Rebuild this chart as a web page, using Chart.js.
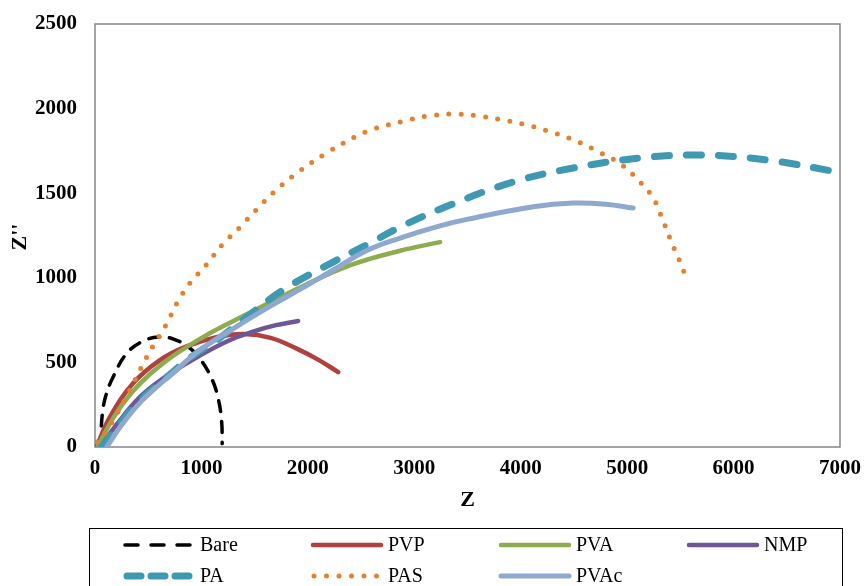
<!DOCTYPE html>
<html>
<head>
<meta charset="utf-8">
<title>Nyquist plot</title>
<script src="https://cdn.jsdelivr.net/npm/chart.js@4.4.0/dist/chart.umd.min.js"></script>
<style>
    html, body { margin: 0; padding: 0; background: #fff; }
    #wrap { width: 864px; height: 586px; }
</style>
</head>
<body>
<div id="wrap"><canvas id="nyquist" width="864" height="586"></canvas></div>
<script>
// Axis ticks
const xTicks = [0, 1000, 2000, 3000, 4000, 5000, 6000, 7000];
const yTicks = [0, 500, 1000, 1500, 2000, 2500];

// Series (Z, Z'')
const bareZ = [45, 55, 70, 100, 170, 300, 450, 600, 750, 900, 1000, 1100, 1160, 1190, 1195];
const bareZi = [0, 80, 200, 300, 414, 555, 625, 650, 635, 580, 510, 400, 280, 150, 20];

const pvpZ = [20, 140, 360, 610, 860, 1150, 1400, 1650, 1900, 2100, 2285];
const pvpZi = [10, 177, 378, 514, 595, 650, 668, 645, 580, 515, 443];

const pvaZ = [30, 200, 400, 650, 990, 1300, 1615, 1950, 2400, 2866, 3242];
const pvaZi = [10, 200, 360, 500, 640, 745, 845, 950, 1075, 1160, 1211];

const nmpZ = [50, 200, 423, 650, 865, 1100, 1297, 1500, 1700, 1908];
const nmpZi = [0, 130, 296, 410, 496, 580, 640, 685, 720, 745];

const paZ = [60, 200, 400, 677, 900, 1146, 1450, 1767, 2237, 2600, 2866, 3336, 3929, 4493, 5122, 5686, 6316, 6983];
const paZi = [0, 110, 260, 414, 530, 632, 780, 928, 1093, 1210, 1300, 1430, 1566, 1649, 1708, 1726, 1696, 1625];

const pasZ = [15, 94, 216, 329, 432, 545, 667, 771, 893, 1052, 1193, 1363, 1522, 1682, 1861, 2209, 2557, 2904, 3139, 3365, 3600, 3835, 4060, 4286, 4502, 4718, 4925, 5094, 5244, 5338, 5423, 5517, 5554];
const pasZi = [30, 83, 207, 337, 467, 597, 721, 851, 969, 1081, 1194, 1300, 1406, 1507, 1602, 1750, 1865, 1927, 1957, 1968, 1957, 1932, 1903, 1862, 1814, 1749, 1679, 1584, 1472, 1336, 1200, 1064, 993];

const pvacZ = [110, 250, 450, 700, 987, 1300, 1615, 1950, 2237, 2550, 2866, 3200, 3493, 4118, 4493, 4800, 5056];
const pvacZi = [0, 130, 280, 420, 573, 700, 821, 940, 1046, 1160, 1235, 1300, 1345, 1420, 1442, 1435, 1412];

const serif = "'Liberation Serif', 'Times New Roman', serif";

function toPoints(xs, ys) {
    return xs.map((x, i) => ({ x: x, y: ys[i] }));
}

function series(label, xs, ys, color, width, dash, order) {
    return {
        label: label,
        data: toPoints(xs, ys),
        borderColor: color,
        backgroundColor: color,
        borderWidth: width,
        borderDash: dash,
        borderCapStyle: 'round',
        borderJoinStyle: 'round',
        pointRadius: 0,
        pointHoverRadius: 0,
        showLine: true,
        fill: false,
        tension: 0.4,
        order: order
    };
}

const datasets = [
    series('Bare', bareZ, bareZi, '#000000', 3.5, [11, 10], 6),
    series('PVP', pvpZ, pvpZi, '#b0413e', 4.5, [], 5),
    series('PVA', pvaZ, pvaZi, '#8cac4f', 4.5, [], 4),
    series('NMP', nmpZ, nmpZi, '#6e5796', 4.5, [], 3),
    series('PA', paZ, paZi, '#3f99b2', 7, [15, 17], 2),
    series('PAS', pasZ, pasZi, '#e2822f', 5, [0, 12.3], 1),
    series('PVAc', pvacZ, pvacZi, '#8fa8cf', 5, [], 0)
];

// Plot frame under the curves
const frame = {
    id: 'frame',
    beforeDatasetsDraw(chart) {
        const a = chart.chartArea;
        const ctx = chart.ctx;
        ctx.save();
        ctx.strokeStyle = '#868686';
        ctx.lineWidth = 1.5;
        ctx.strokeRect(a.left, a.top, a.right - a.left, a.bottom - a.top);
        ctx.restore();
    }
};

// Axis titles and the boxed legend at the bottom
const extras = {
    id: 'extras',
    afterDraw(chart) {
        const ctx = chart.ctx;
        const a = chart.chartArea;
        ctx.save();
        ctx.fillStyle = '#000';
        ctx.font = 'bold 22px ' + serif;
        ctx.textAlign = 'center';
        ctx.textBaseline = 'middle';
        ctx.fillText('Z', (a.left + a.right) / 2, 500);
        ctx.save();
        ctx.translate(20, 237);
        ctx.rotate(-Math.PI / 2);
        ctx.fillText("Z''", 0, 0);
        ctx.restore();

        // legend
        ctx.strokeStyle = '#000';
        ctx.lineWidth = 1;
        ctx.strokeRect(89.5, 528.5, 753, 80);
        const cols = [123, 311, 499, 687];
        const rows = [545, 576];
        ctx.font = '20px ' + serif;
        ctx.textAlign = 'left';
        chart.data.datasets.forEach((ds, i) => {
            const x = cols[i % 4];
            const y = rows[Math.floor(i / 4)];
            ctx.beginPath();
            ctx.strokeStyle = ds.borderColor;
            ctx.lineWidth = ds.borderWidth;
            ctx.lineCap = 'round';
            let x0 = x + 2, x1 = x + 70;
            if (ds.label === 'Bare') { ctx.setLineDash([13, 13]); }
            else if (ds.label === 'PA') { ctx.setLineDash([14, 10]); x0 = x + 4; }
            else if (ds.label === 'PAS') { ctx.setLineDash([0, 12.5]); x0 = x + 3; x1 = x + 72; }
            else ctx.setLineDash([]);
            ctx.moveTo(x0, y);
            ctx.lineTo(x1, y);
            ctx.stroke();
            ctx.setLineDash([]);
            ctx.fillStyle = '#000';
            ctx.fillText(ds.label, x + 77, y + 1);
        });
        ctx.restore();
    }
};

new Chart(document.getElementById('nyquist').getContext('2d'), {
    type: 'scatter',
    data: { datasets: datasets },
    options: {
        responsive: false,
        animation: false,
        layout: { padding: { top: 24, right: 24, left: 0, bottom: 0 } },
        plugins: {
            legend: { display: false },
            tooltip: { enabled: false }
        },
        scales: {
            x: {
                type: 'linear',
                min: 0,
                max: 7000,
                afterBuildTicks: scale => { scale.ticks = xTicks.map(v => ({ value: v })); },
                afterFit: scale => {
                    scale.height = 139;
                    scale.paddingLeft = 0;
                    scale.paddingRight = 0;
                },
                grid: { display: false, drawTicks: false },
                border: { display: false },
                ticks: {
                    padding: 9,
                    maxRotation: 0,
                    color: '#000',
                    callback: v => String(v),
                    font: { family: serif, size: 21, weight: 'bold' }
                }
            },
            y: {
                type: 'linear',
                min: 0,
                max: 2500,
                afterBuildTicks: scale => { scale.ticks = yTicks.map(v => ({ value: v })); },
                afterFit: scale => {
                    scale.width = 95;
                    scale.paddingTop = 0;
                    scale.paddingBottom = 0;
                },
                grid: { display: false, drawTicks: false },
                border: { display: false },
                ticks: {
                    padding: 18,
                    color: '#000',
                    callback: v => String(v),
                    font: { family: serif, size: 21, weight: 'bold' }
                }
            }
        }
    },
    plugins: [frame, extras]
});
</script>
</body>
</html>
